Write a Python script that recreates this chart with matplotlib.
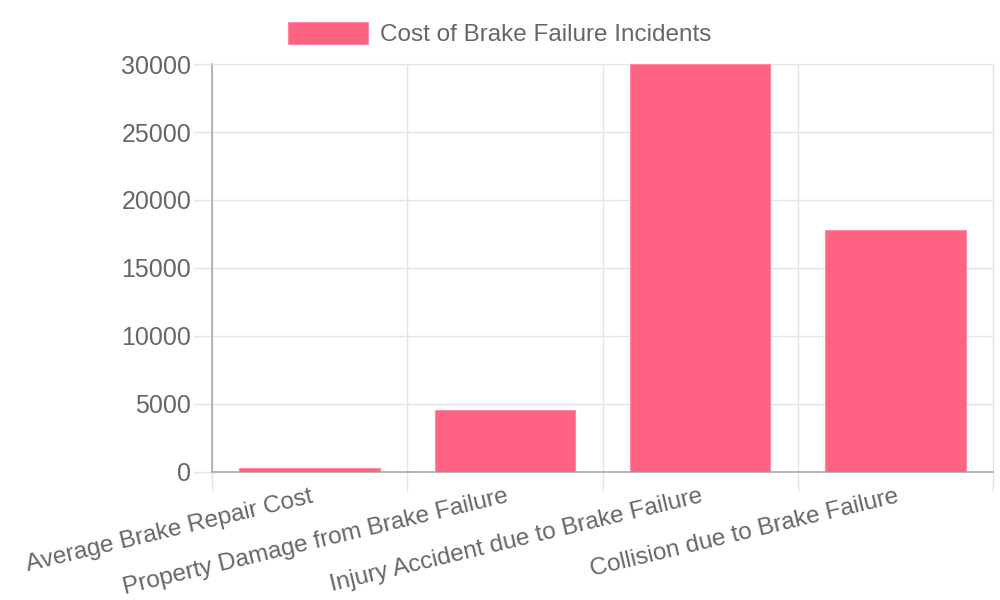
import matplotlib
matplotlib.use("Agg")
import matplotlib.pyplot as plt

categories = [
    "Average Brake Repair Cost",
    "Property Damage from Brake Failure",
    "Injury Accident due to Brake Failure",
    "Collision due to Brake Failure",
]
costs = [300, 4500, 30000, 17800]
series_name = "Cost of Brake Failure Incidents"
y_ticks = [0, 5000, 10000, 15000, 20000, 25000, 30000]

plt.rcParams["font.family"] = ["Liberation Sans", "DejaVu Sans"]
text_col = "#666666"
grid_col = "#e5e5e5"
axis_col = "#aaaaaa"
bar_col = "#ff6384"

fig = plt.figure(figsize=(10, 6), dpi=100)
ax = fig.add_axes([0.212, 0.214, 0.781, 0.6792])

pos = list(range(len(categories)))
ax.bar(pos, costs, width=0.72, color=bar_col, edgecolor="#ff8aa2", linewidth=0.8,
       label=series_name, zorder=3)

ax.set_xlim(-0.5, len(categories) - 0.5)
ax.set_ylim(0, 30000)
ax.set_yticks(y_ticks)
ax.set_yticklabels([str(v) for v in y_ticks])

# category grid sits on the boundaries between bars
bounds = [i - 0.5 for i in range(len(categories) + 1)]
ax.set_xticks(bounds)
ax.set_xticklabels([])
ax.set_xticks(pos, minor=True)
ax.set_xticklabels(categories, minor=True, rotation=13.5, ha="right", va="top",
                   rotation_mode="anchor")
ax.tick_params(axis="x", which="minor", length=0, pad=10, labelsize=17.5,
               labelcolor=text_col)
ax.tick_params(axis="x", which="major", length=14, color=grid_col, width=1)
ax.tick_params(axis="y", length=14, color=grid_col, width=1, pad=1,
               labelsize=18, labelcolor=text_col)

ax.grid(True, which="major", color=grid_col, linewidth=1, zorder=0)
for side in ["top", "right"]:
    ax.spines[side].set_color(grid_col)
for side in ["left", "bottom"]:
    ax.spines[side].set_color(axis_col)
    ax.spines[side].set_linewidth(1.2)

fig.legend(loc="upper center", bbox_to_anchor=(0.5, 1.0), frameon=False,
           fontsize=17.5, labelcolor=text_col, handlelength=3.3,
           handleheight=1.0, handletextpad=0.5)

fig.savefig("out.png", dpi=100)
